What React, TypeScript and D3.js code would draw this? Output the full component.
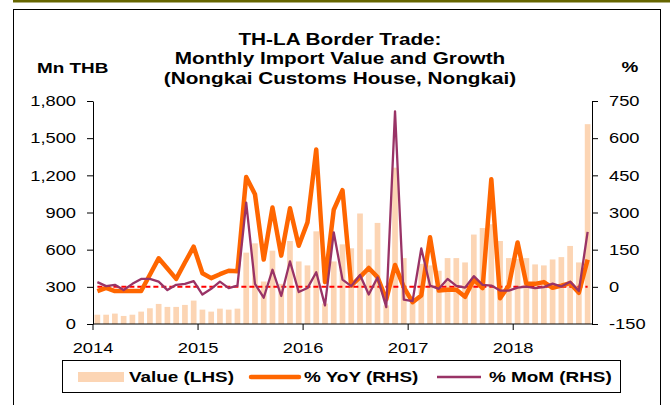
import React, { useRef, useEffect } from 'react';
import * as d3 from 'd3';

// Jan 2014 .. Sep 2018
const months = d3
  .timeMonths(new Date(2014, 0, 1), new Date(2018, 8, 2))
  .map(d3.timeFormat('%Y-%m'));

const valueLHS = [
  75, 75, 84, 65, 75, 100, 127, 162, 138, 138, 154, 189,
  116, 100, 124, 116, 124, 576, 651, 343, 592, 324, 670, 505,
  473, 748, 165, 505, 643, 611, 892, 602, 816, 150, 1262, 532,
  190, 486, 473, 430, 532, 532, 497, 722, 775, 805, 670, 532,
  525, 532, 481, 473, 521, 540, 630, 497, 1613,
];

const yoyRHS = [
  -17, -4, -17, -17, -17, -17, 49, 115, 74, 32, 98, 162,
  55, 35, 51, 65, 63, 443, 374, 110, 320, 126, 317, 166,
  260, 554, 19, 311, 390, 5, 39, 76, 39, -51, 88, -1,
  -62, -35, 200, -15, -12, -12, -40, 29, -5, 434, -46, 5,
  179, 12, 12, 19, -4, 5, 15, -24, 110,
];

const momRHS = [
  19, 3, 8, -13, 12, 32, 32, 21, -13, 8, 12, 23,
  -31, -8, 21, -5, 5, 340, 12, -44, 69, -37, 103, -21,
  -5, 59, -75, 220, 29, 3, 48, -31, 38, -82, 708, -52,
  -58, 155, 5, -8, 32, 4, -3, 43, 8, 5, -15, -15,
  -3, 1, -5, -1, 13, 1, 21, -17, 222,
];

const yearLabels = ['2014', '2015', '2016', '2017', '2018'];
const leftTicks = [0, 300, 600, 900, 1200, 1500, 1800];
const rightTicks = [-150, 0, 150, 300, 450, 600, 750];
const titleLines = [
  'TH-LA Border Trade:',
  'Monthly Import Value and Growth',
  '(Nongkai Customs House, Nongkai)',
];

const FONT = '"Liberation Sans", Arial, sans-serif';
const STRETCH = 'scaleX(1.22)';
const BAR = '#FCD5B4';
const ORANGE = '#FF6600';
const PURPLE = '#993366';

const App: React.FC = () => {
  const svgRef = useRef<SVGSVGElement | null>(null);

  useEffect(() => {
    const svg = d3.select(svgRef.current);
    svg.selectAll('*').remove();

    const left = 93;
    const right = 592;
    const top = 101;
    const bottom = 324;

    const x = d3
      .scaleBand<string>()
      .domain(months)
      .range([left, right])
      .paddingInner(0.35)
      .paddingOuter(0.175);
    const yL = d3.scaleLinear().domain([0, 1800]).range([bottom, top]);
    const yR = d3.scaleLinear().domain([-150, 750]).range([bottom, top]);
    const cx = (i: number) => x(months[i])! + x.bandwidth() / 2;

    const stretch = (sel: any, origin: string) =>
      sel
        .style('transform-box', 'fill-box')
        .style('transform-origin', origin)
        .style('transform', STRETCH);

    // frame
    svg.append('rect').attr('x', 0).attr('y', 0).attr('width', 670).attr('height', 405).attr('fill', '#fff');
    svg.append('rect').attr('x', 13).attr('y', 0).attr('width', 657).attr('height', 2.5).attr('fill', '#666600');
    svg
      .append('rect')
      .attr('x', 13.5)
      .attr('y', 9.5)
      .attr('width', 647)
      .attr('height', 420)
      .attr('fill', 'none')
      .attr('stroke', '#000')
      .attr('stroke-width', 1);

    // titles
    const titleY = [45, 64.5, 84];
    titleLines.forEach((t, i) => {
      stretch(
        svg
          .append('text')
          .attr('x', 340)
          .attr('y', titleY[i])
          .attr('text-anchor', 'middle')
          .style('font-family', FONT)
          .style('font-weight', 'bold')
          .style('font-size', '17px')
          .text(t),
        'center'
      );
    });
    stretch(
      svg
        .append('text')
        .attr('x', 37)
        .attr('y', 73)
        .style('font-family', FONT)
        .style('font-weight', 'bold')
        .style('font-size', '15.5px')
        .text('Mn THB'),
      'left center'
    );
    stretch(
      svg
        .append('text')
        .attr('x', 630)
        .attr('y', 72)
        .attr('text-anchor', 'middle')
        .style('font-family', FONT)
        .style('font-weight', 'bold')
        .style('font-size', '15.5px')
        .text('%'),
      'center'
    );

    // bars
    svg
      .append('g')
      .selectAll('rect')
      .data(valueLHS)
      .enter()
      .append('rect')
      .attr('x', (d, i) => x(months[i])!)
      .attr('y', (d) => yL(d))
      .attr('width', x.bandwidth())
      .attr('height', (d) => bottom - yL(d))
      .attr('fill', BAR);

    // zero line (RHS)
    svg
      .append('line')
      .attr('x1', cx(0))
      .attr('x2', cx(months.length - 1))
      .attr('y1', yR(0))
      .attr('y2', yR(0))
      .attr('stroke', '#FF0000')
      .attr('stroke-width', 2)
      .attr('stroke-dasharray', '5,3');

    const line = d3
      .line<number>()
      .x((d, i) => cx(i))
      .y((d) => yR(d));

    svg
      .append('path')
      .datum(yoyRHS)
      .attr('d', line)
      .attr('fill', 'none')
      .attr('stroke', ORANGE)
      .attr('stroke-width', 4.5)
      .attr('stroke-linejoin', 'round');

    svg
      .append('path')
      .datum(momRHS)
      .attr('d', line)
      .attr('fill', 'none')
      .attr('stroke', PURPLE)
      .attr('stroke-width', 2.3)
      .attr('stroke-linejoin', 'round');

    // axes
    const styleAxis = (g: any, origin: string) => {
      g.select('.domain').attr('stroke', '#000');
      g.selectAll('.tick line').attr('stroke', '#000');
      stretch(
        g.selectAll('.tick text').attr('fill', '#000').style('font-family', FONT).style('font-size', '15px'),
        origin
      );
    };

    const gL = svg
      .append('g')
      .attr('transform', `translate(${left},0)`)
      .call(
        d3
          .axisLeft(yL)
          .tickValues(leftTicks)
          .tickSize(6)
          .tickSizeOuter(0)
          .tickPadding(11)
          .tickFormat(d3.format(','))
      );
    styleAxis(gL, 'right center');

    const gR = svg
      .append('g')
      .attr('transform', `translate(${right},0)`)
      .call(
        d3
          .axisRight(yR)
          .tickValues(rightTicks)
          .tickSize(6)
          .tickSizeOuter(0)
          .tickPadding(11)
          .tickFormat((d) => String(d))
      );
    styleAxis(gR, 'left center');

    const boundary = (i: number) => x(months[i])! - (x.step() - x.bandwidth()) / 2;
    const yearPos = d3.scaleOrdinal<string, number>()
      .domain(yearLabels)
      .range(yearLabels.map((y) => boundary(months.indexOf(`${y}-01`))));

    const gX = svg.append('g').attr('transform', `translate(0,${bottom})`);
    gX.append('line').attr('x1', left).attr('x2', right).attr('stroke', '#000');
    yearLabels.forEach((yr) => {
      const px = yearPos(yr);
      gX.append('line').attr('x1', px).attr('x2', px).attr('y1', 0).attr('y2', 6).attr('stroke', '#000');
      stretch(
        gX
          .append('text')
          .attr('x', px)
          .attr('y', 29)
          .attr('text-anchor', 'middle')
          .style('font-family', FONT)
          .style('font-size', '15px')
          .text(yr),
        'center'
      );
    });

    // legend
    const lg = svg.append('g');
    lg.append('rect')
      .attr('x', 62.5)
      .attr('y', 360.5)
      .attr('width', 558)
      .attr('height', 32)
      .attr('fill', '#fff')
      .attr('stroke', '#000');
    lg.append('rect').attr('x', 78).attr('y', 372).attr('width', 46).attr('height', 10).attr('fill', BAR);
    lg.append('line').attr('x1', 251).attr('x2', 299).attr('y1', 377).attr('y2', 377)
      .attr('stroke', ORANGE).attr('stroke-width', 4.5).attr('stroke-linecap', 'round');
    lg.append('line').attr('x1', 437).attr('x2', 481).attr('y1', 377).attr('y2', 377)
      .attr('stroke', PURPLE).attr('stroke-width', 2.3);
    const legendText: [string, number][] = [
      ['Value (LHS)', 129],
      ['% YoY (RHS)', 304],
      ['% MoM (RHS)', 489],
    ];
    legendText.forEach(([t, lx]) => {
      stretch(
        lg
          .append('text')
          .attr('x', lx)
          .attr('y', 382)
          .style('font-family', FONT)
          .style('font-weight', 'bold')
          .style('font-size', '15.5px')
          .text(t),
        'left center'
      );
    });
  }, []);

  return (
    <svg
      ref={svgRef}
      width={670}
      height={405}
      style={{ position: 'absolute', left: 0, top: 0, display: 'block' }}
    />
  );
};

export default App;
